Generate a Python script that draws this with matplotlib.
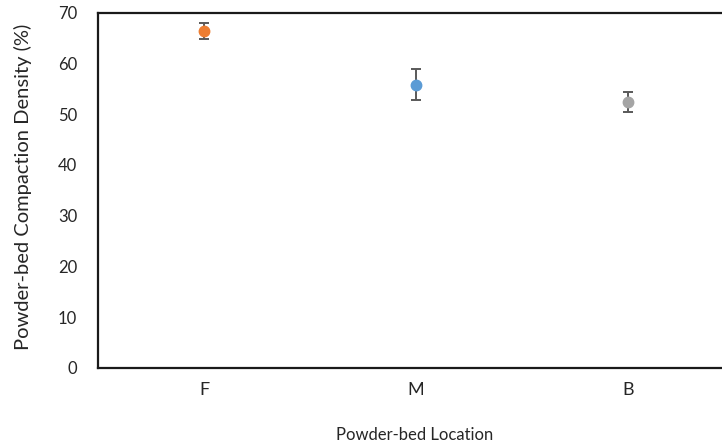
import matplotlib
matplotlib.use("Agg")
import matplotlib.pyplot as plt

categories = ["F", "M", "B"]
density = [66.4, 55.8, 52.4]
errors = [1.6, 3.0, 1.9]
colors = ["#ED7D31", "#5B9BD5", "#A5A5A5"]
y_ticks = [0, 10, 20, 30, 40, 50, 60, 70]

plt.rcParams['font.family'] = ['Lato', 'DejaVu Sans']

fig = plt.figure(figsize=(7.22, 4.48), dpi=100)
W, H = 722, 448
left, right, top, bottom = 98, 734, 12.5, 368
ax = fig.add_axes([left / W, 1 - bottom / H, (right - left) / W, (bottom - top) / H])

xs = [i + 0.5 for i in range(len(categories))]
for x, y, e, c in zip(xs, density, errors, colors):
    ax.errorbar(x, y, yerr=e, fmt='o', color=c, markersize=7.5,
                ecolor='#595959', elinewidth=1.4, capsize=3.3, capthick=1.4,
                zorder=3)

ax.set_xlim(0, 3)
ax.set_ylim(0, 70)
ax.set_xticks(xs)
ax.set_xticklabels(categories, fontsize=13, color='#262626')
ax.set_yticks(y_ticks)
ax.set_yticklabels([str(v) for v in y_ticks], fontsize=12, color='#262626')
ax.tick_params(axis='both', length=0)
ax.tick_params(axis='y', pad=15)
ax.tick_params(axis='x', pad=10)
for s in ax.spines.values():
    s.set_linewidth(1.6)
    s.set_color('#1a1a1a')

ax.set_xlabel("Powder-bed Location", fontsize=12, color='#262626')
ax.set_ylabel("Powder-bed Compaction Density (%)", fontsize=14.5, color='#262626')
ax.xaxis.set_label_coords(0.498, -0.165)
ax.yaxis.set_label_coords(-0.104, 0.51)

fig.savefig("out.png", dpi=100)
